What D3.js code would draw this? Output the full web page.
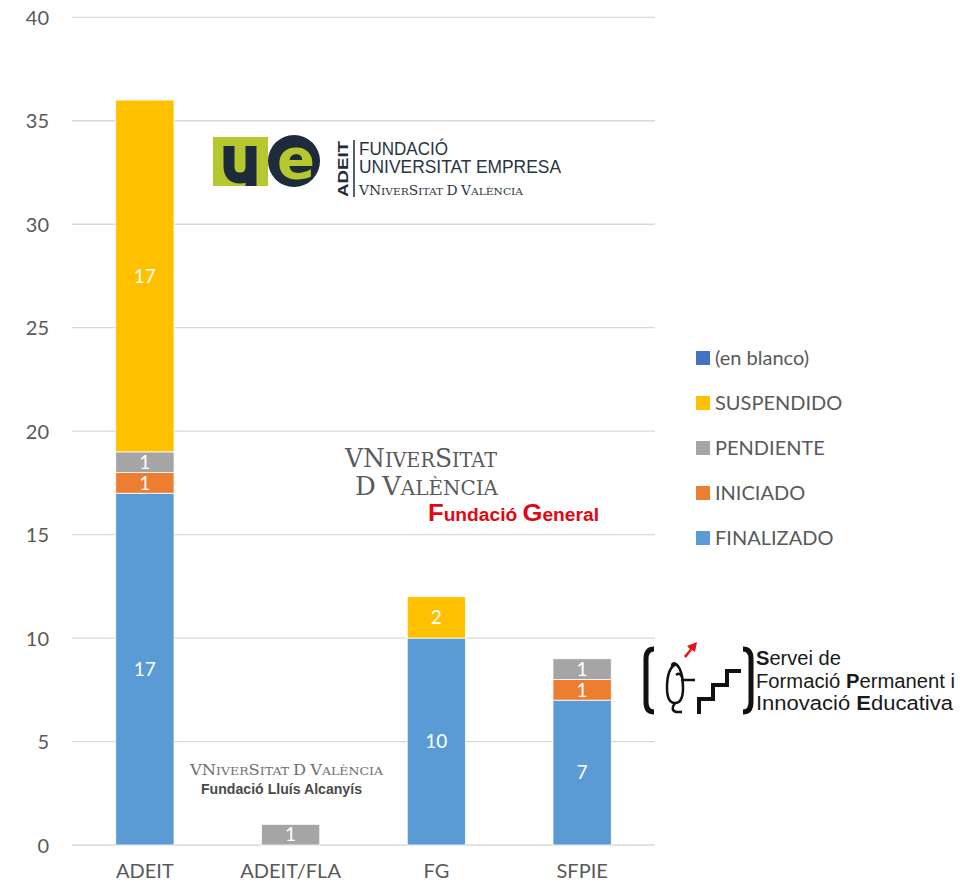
<!DOCTYPE html>
<html>
<head>
<meta charset="utf-8">
<script src="https://cdn.jsdelivr.net/npm/d3@7"></script>
<style>
  html, body { margin: 0; padding: 0; background: #fff; }
  svg { display: block; }
</style>
</head>
<body>
<svg id="chart" width="979" height="886"></svg>
<script>
const categories = ["ADEIT", "ADEIT/FLA", "FG", "SFPIE"];
const seriesNames = ["FINALIZADO", "INICIADO", "PENDIENTE", "SUSPENDIDO", "(en blanco)"];
const finalizado = [17, 0, 10, 7];
const iniciado   = [1, 0, 0, 1];
const pendiente  = [1, 1, 0, 1];
const suspendido = [17, 0, 2, 0];
const enBlanco   = [0, 0, 0, 0];
const yTicks = [0, 5, 10, 15, 20, 25, 30, 35, 40];
const colors = ["#5B9BD5", "#ED7D31", "#A5A5A5", "#FFC000", "#4472C4"];

const seriesValues = [finalizado, iniciado, pendiente, suspendido, enBlanco];
const table = categories.map((c, i) => {
  const row = { cat: c };
  seriesNames.forEach((s, j) => row[s] = seriesValues[j][i]);
  return row;
});

const svg = d3.select("#chart");
const FONT = "Lato, 'Open Sans', sans-serif";

const x = d3.scaleBand().domain(categories).range([72, 655]).paddingInner(0.6).paddingOuter(0.3);
const y = d3.scaleLinear().domain([0, 40]).range([845, 17.3]);

// gridlines
svg.append("g").selectAll("line").data(yTicks).join("line")
  .attr("x1", 72).attr("x2", 655)
  .attr("y1", d => y(d)).attr("y2", d => y(d))
  .attr("stroke", "#D9D9D9").attr("stroke-width", 1.3);

// y axis labels
const yAxis = d3.axisLeft(y).tickValues(yTicks).tickSize(0).tickPadding(0);
const gy = svg.append("g").attr("transform", "translate(49,0)").call(yAxis);
gy.select(".domain").remove();
gy.selectAll("text").attr("font-family", FONT).attr("font-size", 20).attr("fill", "#595959").attr("dy", "0.35em");

// x axis labels
const xAxis = d3.axisBottom(x).tickSize(0).tickPadding(0);
const gx = svg.append("g").attr("transform", "translate(0,864)").call(xAxis);
gx.select(".domain").remove();
gx.selectAll("text").attr("font-family", FONT).attr("font-size", 20).attr("fill", "#595959").attr("dy", "0.71em");

// stacked bars
const stack = d3.stack().keys(seriesNames);
const stacked = stack(table);
const layers = svg.append("g").selectAll("g").data(stacked).join("g")
  .attr("fill", (d, i) => colors[i]);
layers.selectAll("rect").data(d => d.filter(p => p[1] - p[0] > 0)).join("rect")
  .attr("x", p => x(p.data.cat))
  .attr("width", x.bandwidth())
  .attr("y", p => y(p[1]))
  .attr("height", p => y(p[0]) - y(p[1]))
  .attr("stroke", "#fff").attr("stroke-width", 0.8);

// data labels
const labels = svg.append("g");
stacked.forEach((layer) => {
  layer.filter(p => p[1] - p[0] > 0).forEach(p => {
    labels.append("text")
      .attr("x", x(p.data.cat) + x.bandwidth() / 2)
      .attr("y", (y(p[0]) + y(p[1])) / 2)
      .attr("dy", "0.36em")
      .attr("text-anchor", "middle")
      .attr("font-family", FONT).attr("font-size", 19)
      .attr("fill", "#fff")
      .text(p[1] - p[0]);
  });
});

// legend
const legendOrder = seriesNames.map((s, i) => ({ name: s, color: colors[i] })).reverse();
const lg = svg.append("g").selectAll("g").data(legendOrder).join("g")
  .attr("transform", (d, i) => `translate(696,${351 + i * 45})`);
lg.append("rect").attr("width", 14).attr("height", 14).attr("fill", d => d.color);
lg.append("text").attr("x", 19).attr("y", 7).attr("dy", "0.36em")
  .attr("font-family", FONT).attr("font-size", 20).attr("fill", "#595959")
  .text(d => d.name);

// ---------- Logos (approximations) ----------
const SERIF = "'DejaVu Serif', 'Liberation Serif', serif";
const NARROW = "'Liberation Sans Narrow', 'Liberation Sans', Arial, sans-serif";

// helper: "Vniversitat"-style small caps lettering
function smallCaps(g, xPos, yPos, str, bigSize, smallSize, len, fill) {
  const t = g.append("text").attr("x", xPos).attr("y", yPos)
    .attr("font-family", SERIF).attr("fill", fill)
    .attr("textLength", len).attr("lengthAdjust", "spacingAndGlyphs");
  const parts = str.split(/(\^.)/).filter(s => s.length);
  parts.forEach(p => {
    if (p[0] === "^") t.append("tspan").attr("font-size", bigSize).text(p[1]);
    else t.append("tspan").attr("font-size", smallSize).text(p);
  });
  return t;
}

// ADEIT / Fundació Universitat Empresa logo
const ue = svg.append("g");
ue.append("rect").attr("x", 213).attr("y", 137).attr("width", 55).attr("height", 49).attr("fill", "#B5C830");
ue.append("path")
  .attr("d", "M229,146 L229,166 Q229,178 240,178 Q251,178 251,166 L251,146 M251,160 L251,186")
  .attr("fill", "none").attr("stroke", "#1E2B3A").attr("stroke-width", 11);
ue.append("circle").attr("cx", 294).attr("cy", 161).attr("r", 26).attr("fill", "#1E2B3A");
ue.append("text").attr("x", 296).attr("y", 178).attr("text-anchor", "middle")
  .attr("font-family", "'DejaVu Sans', sans-serif").attr("font-weight", "bold").attr("font-size", 56)
  .attr("fill", "#B5C830").text("e");
ue.append("text").attr("transform", "translate(348,197) rotate(-90)")
  .attr("font-family", NARROW).attr("font-weight", "bold").attr("font-size", 15)
  .attr("fill", "#1E2B3A").attr("textLength", 56).attr("lengthAdjust", "spacingAndGlyphs").text("ADEIT");
ue.append("line").attr("x1", 354).attr("x2", 354).attr("y1", 140).attr("y2", 197)
  .attr("stroke", "#1E2B3A").attr("stroke-width", 1.5);
ue.append("text").attr("x", 359).attr("y", 155)
  .attr("font-family", NARROW).attr("font-size", 18.5).attr("fill", "#2A3442")
  .attr("textLength", 89).attr("lengthAdjust", "spacingAndGlyphs").text("FUNDACIÓ");
ue.append("text").attr("x", 359).attr("y", 173)
  .attr("font-family", NARROW).attr("font-size", 18.5).attr("fill", "#2A3442")
  .attr("textLength", 202).attr("lengthAdjust", "spacingAndGlyphs").text("UNIVERSITAT EMPRESA");
smallCaps(ue, 359, 195, "^V^NIVER^SITAT ^D ^VALÈNCIA", 13, 10, 164, "#2A3442");

// Fundació General logo
const fg = svg.append("g");
smallCaps(fg, 345, 467, "^V^NIVER^SITAT", 26, 20, 152, "#5A5A5A");
smallCaps(fg, 355, 495, "^D ^VALÈNCIA", 26, 20, 143, "#5A5A5A");
const fgT = fg.append("text").attr("x", 428).attr("y", 521)
  .attr("font-family", "'Liberation Sans', Arial, sans-serif").attr("font-weight", "bold").attr("fill", "#E30613")
  .attr("textLength", 171).attr("lengthAdjust", "spacingAndGlyphs");
fgT.append("tspan").attr("font-size", 24).text("F");
fgT.append("tspan").attr("font-size", 18).text("undació ");
fgT.append("tspan").attr("font-size", 24).text("G");
fgT.append("tspan").attr("font-size", 18).text("eneral");

// Fundació Lluís Alcanyís logo
const fla = svg.append("g");
smallCaps(fla, 190, 775, "^V^NIVER^SITAT ^D ^VALÈNCIA", 15, 11.5, 193, "#6E6E6E");
fla.append("text").attr("x", 201).attr("y", 794)
  .attr("font-family", "'Liberation Sans', Arial, sans-serif").attr("font-weight", "bold").attr("font-size", 15)
  .attr("fill", "#4A4A4A").attr("textLength", 161).attr("lengthAdjust", "spacingAndGlyphs")
  .text("Fundació Lluís Alcanyís");

// SFPIE logo
const sf = svg.append("g");
sf.append("path").attr("d", "M654,649 Q646,649 646,659 L646,702 Q646,712 654,712")
  .attr("fill", "none").attr("stroke", "#111").attr("stroke-width", 5);
sf.append("path").attr("d", "M743,649 Q751,649 751,659 L751,702 Q751,712 743,712")
  .attr("fill", "none").attr("stroke", "#111").attr("stroke-width", 5);
sf.append("path").attr("d", "M676,664 Q667,668 667,688 Q667,703 675,703 Q683,703 683,688 Q683,670 676,664 Q672,662 672,666")
  .attr("fill", "none").attr("stroke", "#111").attr("stroke-width", 2.5);
sf.append("path").attr("d", "M681,680 L695,680 M676,675 Q680,672 682,677")
  .attr("fill", "none").attr("stroke", "#111").attr("stroke-width", 2.5);
sf.append("path").attr("d", "M675,703 Q670,710 676,712 L682,712")
  .attr("fill", "none").attr("stroke", "#111").attr("stroke-width", 2.5);
sf.append("path").attr("d", "M684,656 L690,649 L687,646 L697,642 L695,652 L692,650 L686,658 Z")
  .attr("fill", "#E8141B");
sf.append("path").attr("d", "M699,714 L699,699 L713,699 L713,685 L727,685 L727,671 L741,671")
  .attr("fill", "none").attr("stroke", "#111").attr("stroke-width", 4);
const sfLines = [
  [["S", true], ["ervei de", false]],
  [["Formació ", false], ["P", true], ["ermanent i", false]],
  [["Innovació ", false], ["E", true], ["ducativa", false]]
];
const sfLens = [85, 199, 197];
sfLines.forEach((parts, i) => {
  const t = sf.append("text").attr("x", 756).attr("y", 665 + i * 22.5)
    .attr("font-family", NARROW).attr("font-size", 20).attr("fill", "#1A1A1A")
    .attr("textLength", sfLens[i]).attr("lengthAdjust", "spacingAndGlyphs");
  parts.forEach(([s, b]) => t.append("tspan").attr("font-weight", b ? "bold" : "normal").text(s));
});
</script>
</body>
</html>
